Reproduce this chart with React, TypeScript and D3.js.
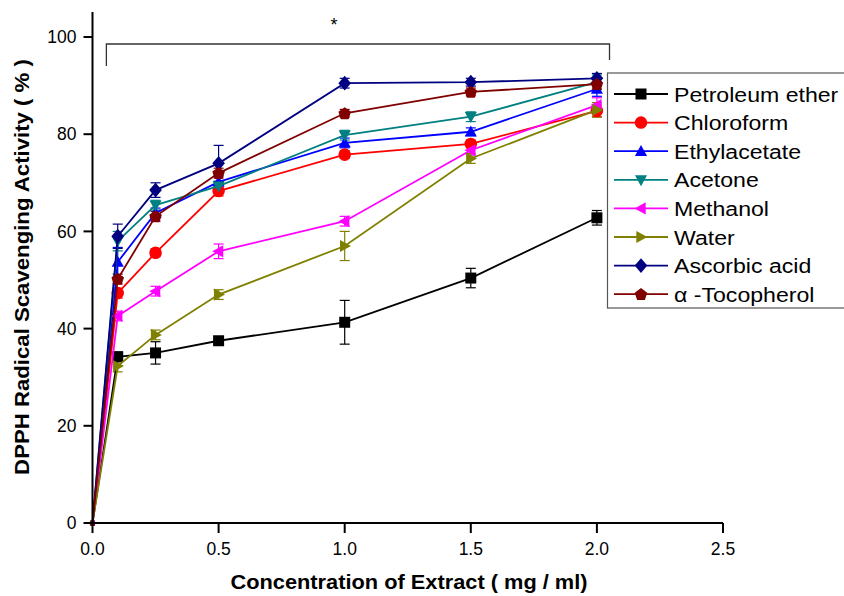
import React from "react";
import * as d3 from "d3";

const xValues = [0, 0.1, 0.25, 0.5, 1.0, 1.5, 2.0];
const seriesNames = ["Petroleum ether", "Chloroform", "Ethylacetate", "Acetone", "Methanol", "Water", "Ascorbic acid", "α -Tocopherol"];
const seriesColors = ["#000000", "#ff0000", "#0000ff", "#008080", "#ff00ff", "#808000", "#000080", "#800000"];
const seriesShapes = ["square", "circle", "up", "down", "left", "right", "diamond", "pentagon"];

const petroleum = [0, 34.2, 35.0, 37.5, 41.3, 50.4, 62.8];
const chloroform = [0, 47.3, 55.6, 68.3, 75.8, 78.0, 84.8];
const ethylacetate = [0, 53.7, 63.8, 70.2, 78.2, 80.5, 89.3];
const acetone = [0, 58.0, 65.4, 69.3, 79.8, 83.6, 90.7];
const methanol = [0, 42.6, 47.7, 55.9, 62.1, 76.7, 86.0];
const water = [0, 32.3, 38.7, 47.0, 57.0, 75.0, 85.0];
const ascorbic = [0, 59.0, 68.5, 74.0, 90.5, 90.7, 91.5];
const tocopherol = [0, 50.2, 63.1, 72.0, 84.3, 88.7, 90.3];

const petroleumErr = [0, 1.0, 2.3, 0.6, 4.5, 2.0, 1.5];
const chloroformErr = [0, 1.0, 0.8, 1.0, 0.8, 0.8, 1.2];
const ethylacetateErr = [0, 3.0, 1.0, 1.2, 1.0, 0.8, 1.5];
const acetoneErr = [0, 2.0, 1.0, 1.0, 1.0, 1.0, 1.5];
const methanolErr = [0, 1.0, 1.0, 1.5, 1.0, 1.0, 1.5];
const waterErr = [0, 1.2, 1.0, 1.0, 3.0, 1.0, 1.5];
const ascorbicErr = [0, 2.5, 1.5, 3.7, 1.0, 0.8, 1.0];
const tocopherolErr = [0, 1.0, 1.0, 1.0, 0.8, 0.8, 1.0];

const seriesValues = [petroleum, chloroform, ethylacetate, acetone, methanol, water, ascorbic, tocopherol];
const seriesErrors = [petroleumErr, chloroformErr, ethylacetateErr, acetoneErr, methanolErr, waterErr, ascorbicErr, tocopherolErr];

const xTicks = [0, 0.5, 1.0, 1.5, 2.0, 2.5];
const yTicks = [0, 20, 40, 60, 80, 100];

function markerPath(shape: string, r: number): string {
  const pts = (arr: [number, number][]) => "M" + arr.map((p) => p.join(",")).join("L") + "Z";
  switch (shape) {
    case "square":
      return pts([[-r, -r], [r, -r], [r, r], [-r, r]]);
    case "circle":
      return d3.symbol().type(d3.symbolCircle).size(Math.PI * r * r * 1.3)() as string;
    case "up":
      return pts([[0, -r * 1.15], [r * 1.1, r * 0.85], [-r * 1.1, r * 0.85]]);
    case "down":
      return pts([[0, r * 1.15], [r * 1.1, -r * 0.85], [-r * 1.1, -r * 0.85]]);
    case "left":
      return pts([[-r * 1.15, 0], [r * 0.85, -r * 1.1], [r * 0.85, r * 1.1]]);
    case "right":
      return pts([[r * 1.15, 0], [-r * 0.85, -r * 1.1], [-r * 0.85, r * 1.1]]);
    case "diamond":
      return pts([[0, -r * 1.35], [r * 1.15, 0], [0, r * 1.35], [-r * 1.15, 0]]);
    case "pentagon": {
      const a: [number, number][] = [];
      for (let i = 0; i < 5; i++) {
        const ang = -Math.PI / 2 + (i * 2 * Math.PI) / 5;
        a.push([Math.cos(ang) * r * 1.2, Math.sin(ang) * r * 1.2 + 0.5]);
      }
      return pts(a);
    }
  }
  return "";
}

export default function App() {
  const W = 844, H = 596;
  const x = d3.scaleLinear().domain([0, 2.5]).range([92.5, 723]);
  const y = d3.scaleLinear().domain([0, 100]).range([523, 37]);
  const line = d3.line<number>().x((_, i) => x(xValues[i])).y((d) => y(d));
  const font = "'Liberation Sans', Arial, sans-serif";
  const r = 5.5;

  return (
    <svg width={W} height={H} style={{ position: "absolute", left: 0, top: 0, background: "#fff" }} fontFamily={font}>
      <rect width={W} height={H} fill="#fff" />
      {/* error bars */}
      {seriesValues.map((vals, si) => (
        <g key={"e" + si} stroke={seriesColors[si]} strokeWidth={1.2}>
          {vals.map((v, i) => {
            const e = seriesErrors[si][i];
            if (e <= 0) return null;
            const cx = x(xValues[i]);
            return (
              <g key={i}>
                <line x1={cx} x2={cx} y1={y(v - e)} y2={y(v + e)} />
                <line x1={cx - 5} x2={cx + 5} y1={y(v - e)} y2={y(v - e)} />
                <line x1={cx - 5} x2={cx + 5} y1={y(v + e)} y2={y(v + e)} />
              </g>
            );
          })}
        </g>
      ))}
      {/* lines and markers */}
      {seriesValues.map((vals, si) => (
        <g key={"s" + si}>
          <path d={line(vals) as string} fill="none" stroke={seriesColors[si]} strokeWidth={1.8} />
          {vals.map((v, i) => (
            <path
              key={i}
              d={markerPath(seriesShapes[si], i === 0 ? 2.5 : r)}
              transform={`translate(${x(xValues[i])},${y(v)})`}
              fill={seriesColors[si]}
            />
          ))}
        </g>
      ))}
      {/* axes */}
      <g stroke="#000" strokeWidth={2}>
        <line x1={x(0)} x2={x(0)} y1={y(0)} y2={12} />
        <line x1={x(0)} x2={x(2.5)} y1={y(0)} y2={y(0)} />
        {yTicks.map((t) => (
          <line key={"yt" + t} x1={x(0) - 9} x2={x(0)} y1={y(t)} y2={y(t)} />
        ))}
        {xTicks.map((t) => (
          <line key={"xt" + t} x1={x(t)} x2={x(t)} y1={y(0)} y2={y(0) + 10} />
        ))}
      </g>
      {yTicks.map((t) => (
        <text key={"yl" + t} x={x(0) - 16} y={y(t)} dy="0.35em" textAnchor="end" fontSize={17.5} fill="#000">
          {t}
        </text>
      ))}
      {xTicks.map((t) => (
        <text key={"xl" + t} x={x(t)} y={y(0) + 32} textAnchor="middle" fontSize={17.5} fill="#000">
          {t.toFixed(1)}
        </text>
      ))}
      <text transform="translate(409,589) scale(1.09,1)" textAnchor="middle" fontSize={20} fontWeight="bold" fill="#000">
        Concentration of Extract ( mg / ml)
      </text>
      <text transform="translate(29,267) rotate(-90) scale(1.11,1)" textAnchor="middle" fontSize={20} fontWeight="bold" fill="#000">
        DPPH Radical Scavenging Activity ( % )
      </text>
      {/* significance bracket */}
      <path d={`M${x(0.055)},66 V44 H${x(2.05)} V60`} fill="none" stroke="#333" strokeWidth={1.3} />
      <text x={334} y={31} textAnchor="middle" fontSize={18} fill="#000">*</text>
      {/* legend */}
      <rect x={607.5} y={73} width={250} height={235} fill="#fff" stroke="#555" strokeWidth={1.2} />
      {seriesNames.map((name, si) => {
        const ly = 94 + si * 28.6;
        return (
          <g key={"l" + si}>
            <line x1={614} x2={668} y1={ly} y2={ly} stroke={seriesColors[si]} strokeWidth={1.8} />
            <path d={markerPath(seriesShapes[si], r)} transform={`translate(641,${ly})`} fill={seriesColors[si]} />
            <text transform={`translate(674,${ly}) scale(1.1,1)`} dy="0.36em" fontSize={21} fill="#000">
              {name}
            </text>
          </g>
        );
      })}
    </svg>
  );
}
